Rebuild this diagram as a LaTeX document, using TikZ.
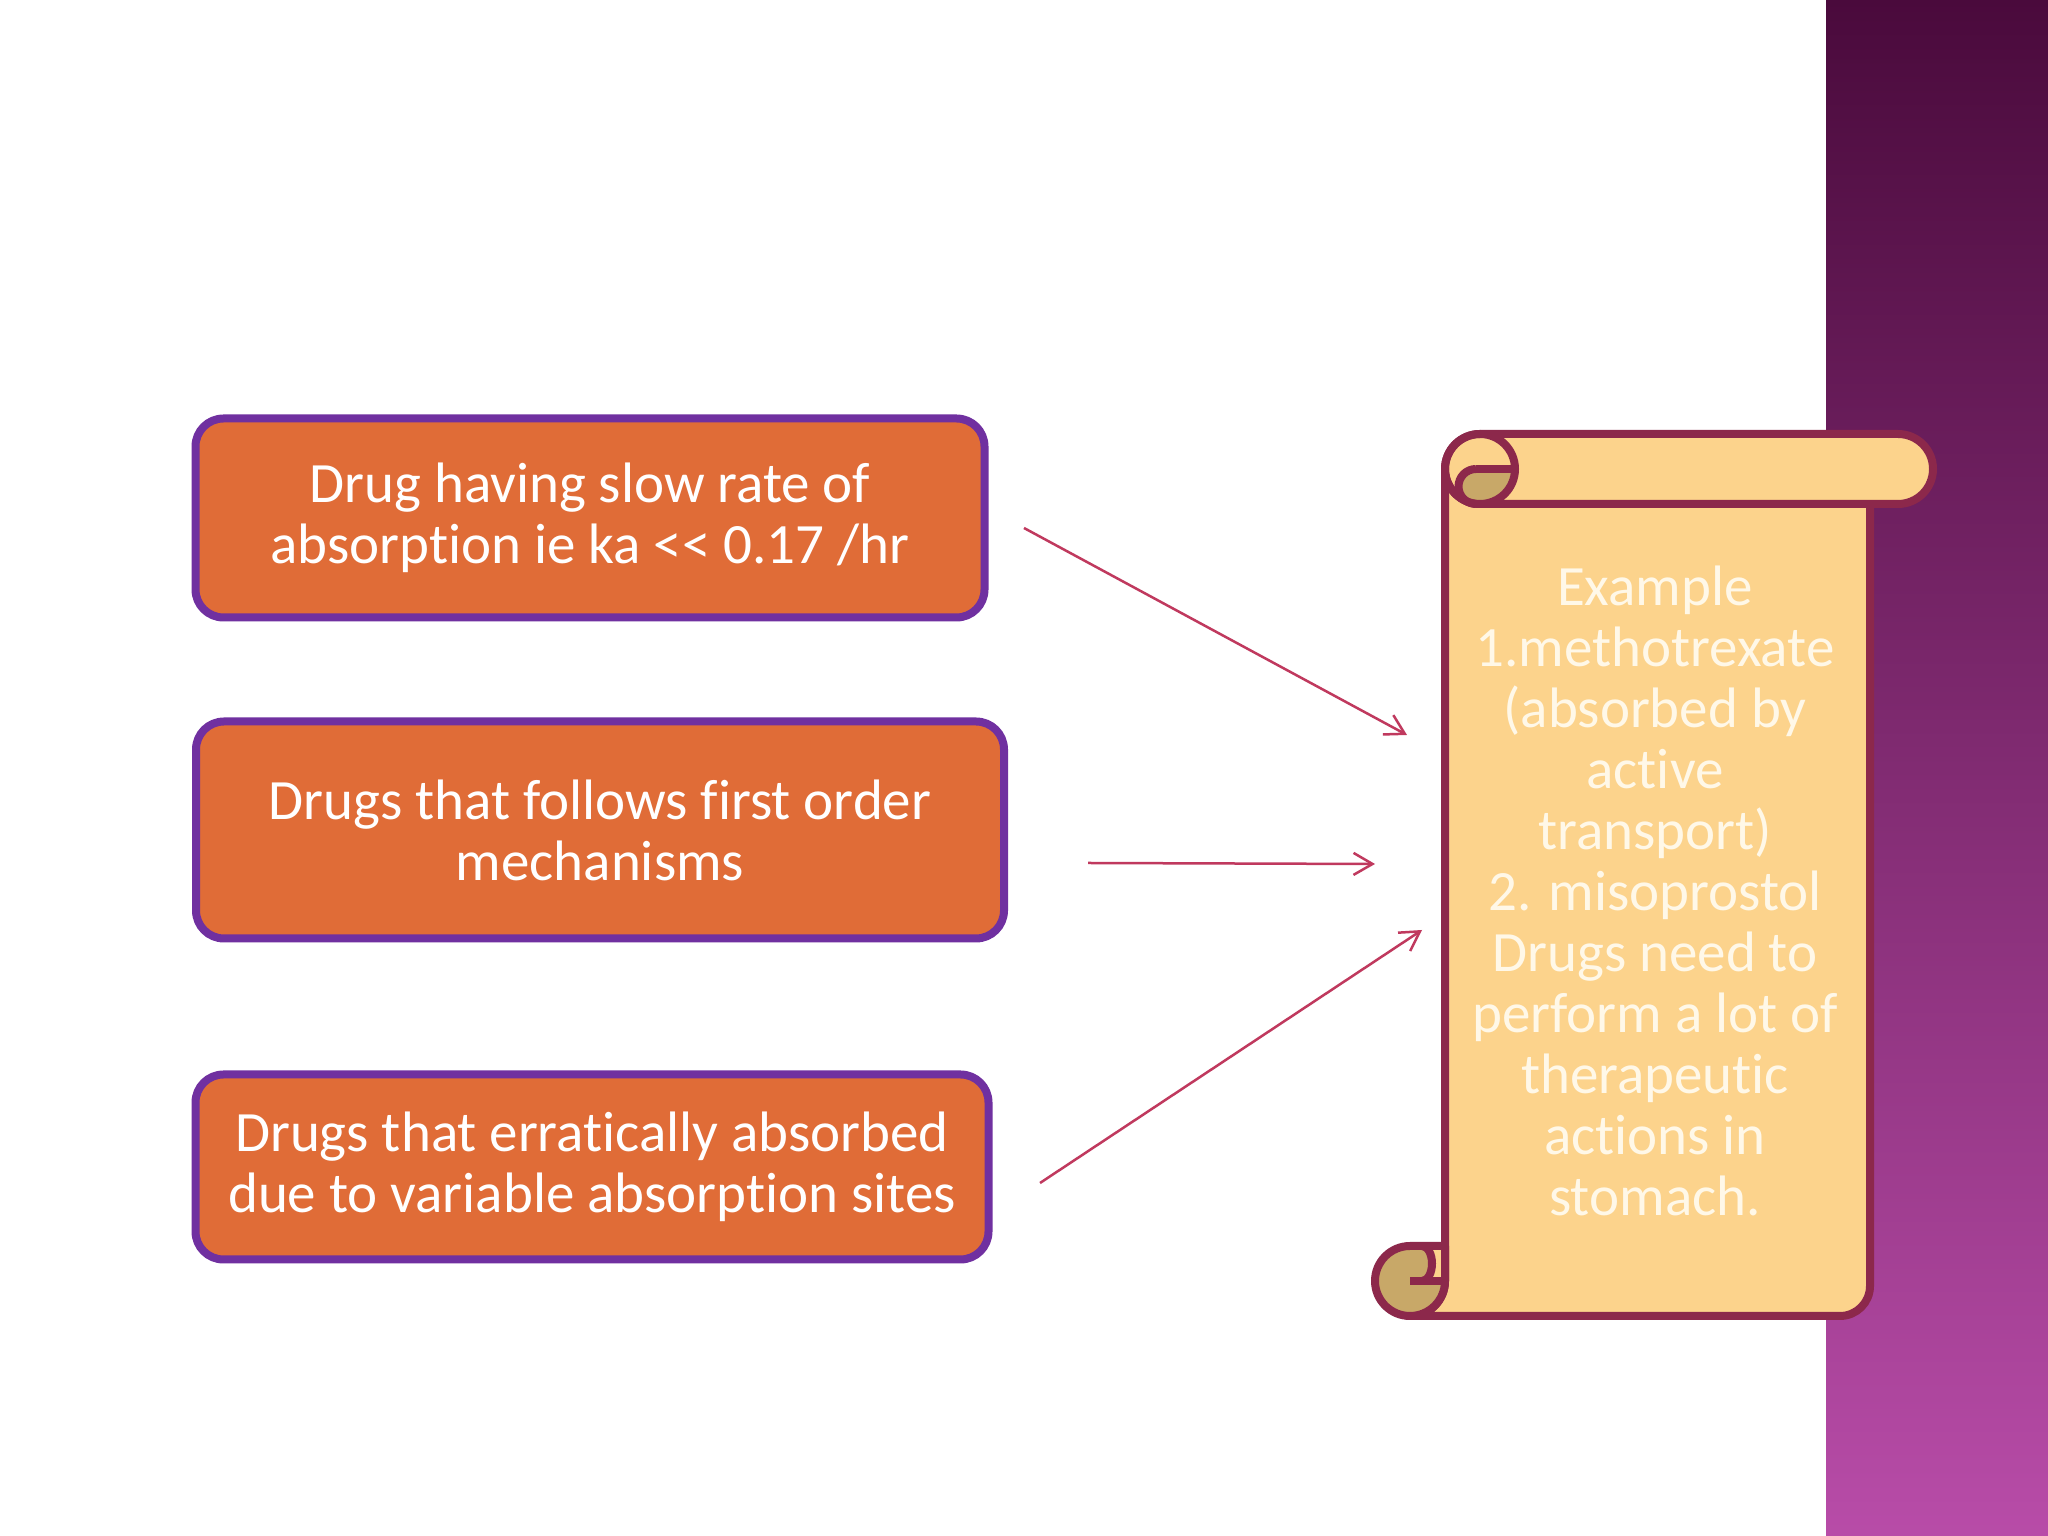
\documentclass[tikz,border=0pt]{standalone}
\usepackage{fontspec}
\setmainfont{Carlito}[Ligatures={TeX,NoCommon}]
\usetikzlibrary{arrows.meta}
\definecolor{boxfill}{RGB}{224,108,55}
\definecolor{boxline}{RGB}{112,48,160}
\definecolor{linkred}{RGB}{192,57,94}
\definecolor{paper}{RGB}{252,211,140}
\definecolor{paperline}{RGB}{140,40,75}
\definecolor{curlshade}{RGB}{200,168,104}
\definecolor{papertext}{RGB}{255,248,232}
\definecolor{bandtop}{RGB}{74,10,60}
\definecolor{bandmid}{RGB}{128,46,114}
\definecolor{bandbot}{RGB}{184,76,168}

\begin{document}
\begin{tikzpicture}[x=1pt,y=1pt,
  cause/.style={rectangle,rounded corners=28pt,draw=boxline,line width=8pt,fill=boxfill,text=white,align=center,inner sep=0pt,font=\fontsize{57}{61}\selectfont},
  link/.style={draw=linkred,line width=2.5pt,-{Straight Barb[length=19pt,width=22pt,line width=2.5pt]}},
  scrollline/.style={draw=paperline,line width=8pt,line join=round},
  notes/.style={align=center,text=papertext,inner sep=0pt,font=\fontsize{57}{61}\selectfont}]

\useasboundingbox (0,0) rectangle (2048,1536);
\fill[white] (0,0) rectangle (2048,1536);
\shade[top color=bandtop,middle color=bandmid,bottom color=bandbot] (1826,0) rectangle (2048,1536);

% the three cases
\node[cause,minimum width=789pt,minimum height=199pt] (slow) at (590,1018) {Drug having slow rate of\\absorption ie ka <\kern0pt< 0.17 /hr};
\node[cause,minimum width=808pt,minimum height=217pt] (first) at (600,706) {Drugs that follows first order\\mechanisms};
\node[cause,minimum width=793pt,minimum height=185pt] (erratic) at (592,369) {Drugs that erratically absorbed\\due to variable absorption sites};

% scroll
\filldraw[fill=paper,scrollline] (1445,1067) -- (1445,255) arc[start angle=0,end angle=-90,radius=35] -- (1840,220) arc[start angle=-90,end angle=0,radius=30] -- (1870,1067) -- cycle;
\filldraw[fill=paper,scrollline] (1480,1102) -- (1898,1102) arc[start angle=90,end angle=-90,radius=35] -- (1480,1032) arc[start angle=270,end angle=90,radius=35] -- cycle;
\fill[curlshade] (1476,1067) -- (1515,1067) arc[start angle=0,end angle=-90,radius=35] -- (1476,1032) arc[start angle=-90,end angle=-270,radius=17.5] -- cycle;
\draw[scrollline] (1480,1067) circle[radius=35];
\draw[scrollline] (1476,1067) -- (1515,1067);
\draw[scrollline] (1476,1032) arc[start angle=-90,end angle=-270,radius=17.5];
\fill[curlshade] (1445,290) -- (1410,290) arc[start angle=90,end angle=360,radius=35] -- cycle;
\fill[paper] (1422,290) -- (1445,290) -- (1445,255) -- (1422,255) arc[start angle=-90,end angle=90,x radius=10,y radius=17.5] -- cycle;
\draw[scrollline] (1445,290) -- (1410,290) arc[start angle=90,end angle=360,radius=35] -- cycle;
\draw[scrollline] (1410,255) -- (1445,255);
\draw[scrollline] (1422,255) arc[start angle=-90,end angle=90,x radius=10,y radius=17.5];

\node[notes] (example) at (1655,645) {Example\\1.methotrexate\\(absorbed by\\active\\transport)\\2. misoprostol\\Drugs need to\\perform a lot of\\therapeutic\\actions in\\stomach.};

% connectors
\coordinate (slowout) at (1024,1008);
\coordinate (slowin) at (1407,801);
\coordinate (firstout) at (1088,673);
\coordinate (firstin) at (1375,672);
\coordinate (erraticout) at (1040,353);
\coordinate (erraticin) at (1422,606);
\draw[link] (slowout) -- (slowin);
\draw[link] (firstout) -- (firstin);
\draw[link] (erraticout) -- (erraticin);

\end{tikzpicture}
\end{document}
